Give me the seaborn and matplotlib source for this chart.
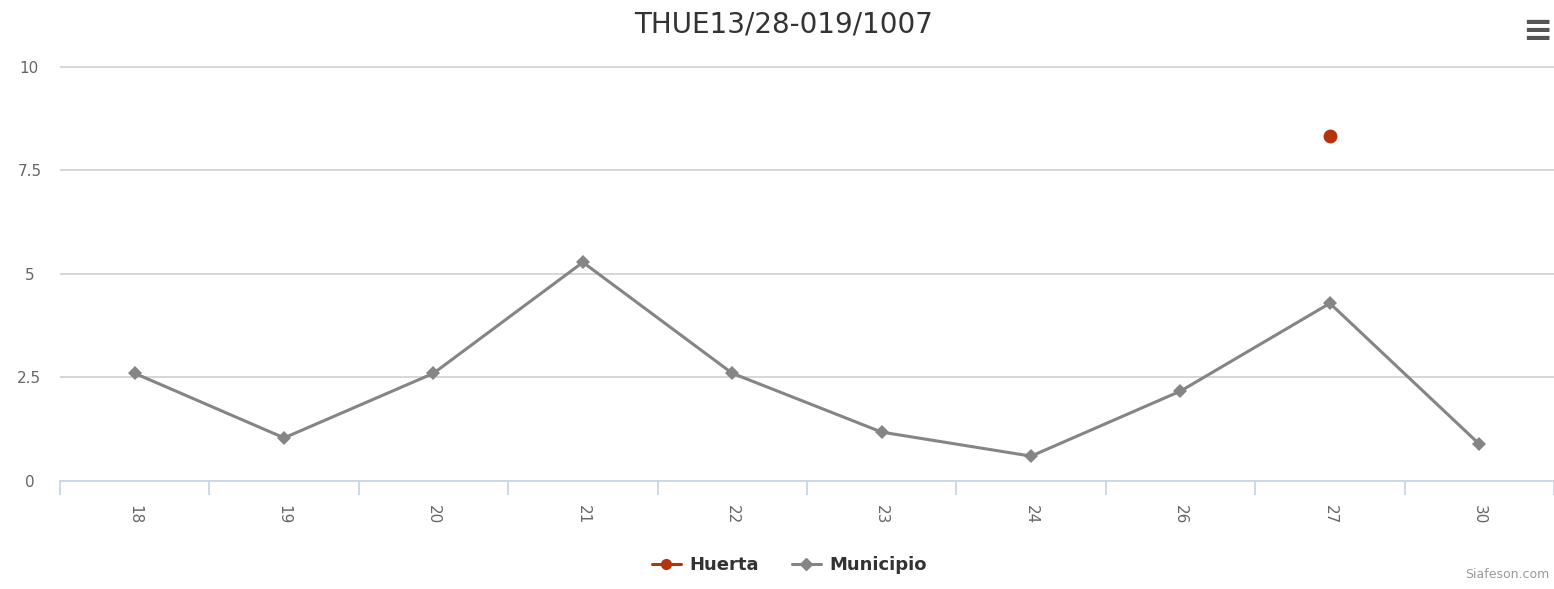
import numpy as np
import pandas as pd
import matplotlib
matplotlib.use("Agg")
import matplotlib.pyplot as plt
import seaborn as sns
from matplotlib.lines import Line2D

# Data
dias = ["18", "19", "20", "21", "22", "23", "24", "26", "27", "30"]
municipio = [2.60, 1.04, 2.60, 5.28, 2.60, 1.18, 0.60, 2.17, 4.29, 0.89]
huerta = [np.nan, np.nan, np.nan, np.nan, np.nan, np.nan, np.nan, np.nan, 8.34, np.nan]
y_ticks = [0, 2.5, 5, 7.5, 10]
y_labels = ["0", "2.5", "5", "7.5", "10"]

sns.set_style("white")
plt.rcParams["font.family"] = ["DejaVu Sans"]

df = pd.DataFrame({"dia": dias, "Municipio": municipio, "Huerta": huerta})

fig = plt.figure(figsize=(15.54, 5.89), dpi=100)
ax = fig.add_axes([0.0386, 0.1834, 0.9614, 0.7046])

gris = "#858585"
rojo = "#b3340d"

sns.lineplot(data=df, x="dia", y="Municipio", ax=ax, color=gris, lw=2.2,
             marker="D", markersize=7, markeredgewidth=0, sort=False)
sns.scatterplot(data=df, x="dia", y="Huerta", ax=ax, color=rojo, s=100,
                linewidth=0, zorder=5)

ax.set_xlim(-0.5, len(dias) - 0.5)
ax.set_ylim(0, 10.02)
ax.set_yticks(y_ticks)
ax.set_yticklabels(y_labels)
ax.yaxis.grid(True, color="#d3d3d3", lw=1.3)
ax.set_axisbelow(True)
ax.set_xlabel("")
ax.set_ylabel("")

for s in ["top", "right", "left"]:
    ax.spines[s].set_visible(False)
ax.spines["bottom"].set_color("#ccd6eb")
ax.spines["bottom"].set_linewidth(1.3)

ax.set_xticks(range(len(dias)))
ax.set_xticklabels(dias, rotation=-90, color="#666666", fontsize=11)
ax.set_xticks(np.arange(-0.5, len(dias), 1.0), minor=True)
ax.tick_params(axis="x", which="major", bottom=False, pad=14)
ax.tick_params(axis="x", which="minor", bottom=True, length=10,
               color="#ccd6eb", width=1.3)
ax.tick_params(axis="y", length=0, pad=22, labelcolor="#666666", labelsize=11)
for lbl in ax.get_yticklabels():
    lbl.set_horizontalalignment("center")

fig.text(0.504, 0.958, "THUE13/28-019/1007", ha="center", va="center",
         fontsize=20, color="#333333")
fig.text(0.989, 0.948, "\u2261", ha="center", va="center", fontsize=26,
         color="#555555", fontweight="bold")
fig.text(0.997, 0.013, "Siafeson.com", ha="right", va="bottom",
         fontsize=9, color="#999999")

handles = [
    Line2D([], [], color=rojo, lw=2.2, marker="o", markersize=7),
    Line2D([], [], color=gris, lw=2.2, marker="D", markersize=6),
]
fig.legend(handles, ["Huerta", "Municipio"], loc="center",
           bbox_to_anchor=(0.508, 0.041), ncol=2, frameon=False,
           prop={"weight": "bold", "size": 13}, handlelength=1.6,
           columnspacing=1.8, handletextpad=0.5, labelcolor="#333333")

fig.savefig("out.png", dpi=100)
